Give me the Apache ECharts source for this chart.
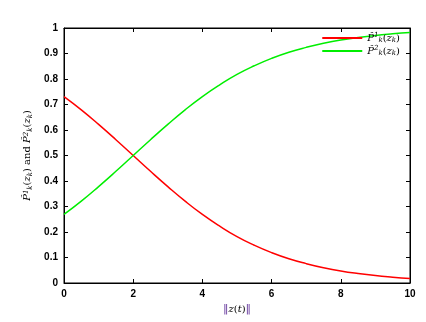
<!DOCTYPE html>
<html>
<head>
<meta charset="utf-8">
<script src="https://cdn.jsdelivr.net/npm/echarts@6/dist/echarts.min.js"></script>
<style>
  html, body { margin: 0; padding: 0; background: #fff; }
  #chart { width: 426px; height: 322px; }
</style>
</head>
<body>
<div id="chart"></div>
<script>
// values
const zNorm = [0, 0.5, 1, 1.5, 2, 2.5, 3, 3.5, 4, 4.5, 5, 5.5, 6, 6.5, 7, 7.5, 8, 8.5, 9, 9.5, 10];
const p1 = [0.731, 0.679, 0.622, 0.562, 0.5, 0.438, 0.378, 0.321, 0.269, 0.223, 0.182, 0.148, 0.119, 0.095, 0.076, 0.06, 0.047, 0.037, 0.029, 0.023, 0.018];
const p2 = [0.269, 0.321, 0.378, 0.438, 0.5, 0.562, 0.622, 0.679, 0.731, 0.777, 0.818, 0.852, 0.881, 0.905, 0.924, 0.94, 0.953, 0.963, 0.971, 0.977, 0.982];
const xTicks = [0, 2, 4, 6, 8, 10];
const yTicks = [0, 0.1, 0.2, 0.3, 0.4, 0.5, 0.6, 0.7, 0.8, 0.9, 1];

const seriesNames = ['p1', 'p2'];
const chart = echarts.init(document.getElementById('chart'));

const tickFont = { color: '#000', fontFamily: 'Liberation Sans', fontWeight: 'bold', fontSize: 10 };
const mathRich = {
  it: { fontFamily: 'DejaVu Serif', fontStyle: 'italic', fontSize: 10, color: '#000' },
  rm: { fontFamily: 'DejaVu Serif', fontSize: 10, color: '#000' },
  sup: { fontFamily: 'DejaVu Serif', fontStyle: 'italic', fontSize: 7, color: '#000', verticalAlign: 'top', padding: [0, 0, 4, 0] },
  sub: { fontFamily: 'DejaVu Serif', fontStyle: 'italic', fontSize: 7, color: '#000', verticalAlign: 'bottom', padding: [4, 0, 0, 0] }
};
const pLabel = (k) => '{it|P̂}{sup|' + k + '}{sub|k}{rm|(}{it|z}{sub|k}{rm|)}';

// axes on top / right only carry the inward ticks of the box
const mirrorAxis = (type, extra) => Object.assign({
  type: 'value', min: 0, max: type === 'x' ? 10 : 1, interval: type === 'x' ? 2 : 0.1,
  show: true,
  axisLine: { show: true, onZero: false, lineStyle: { color: '#000', width: 1 } },
  axisTick: { show: true, inside: true, length: 4, lineStyle: { color: '#000' } },
  axisLabel: { show: false }, splitLine: { show: false }
}, extra);

chart.setOption({
  animation: false,
  backgroundColor: '#fff',
  grid: { left: 64, right: 16, top: 28, bottom: 39, show: true, borderColor: '#000', borderWidth: 1 },
  legend: {
    right: 26, top: 32, orient: 'vertical', itemWidth: 40, itemHeight: 2, itemGap: 1, padding: 0,
    data: seriesNames.map((n) => ({ name: n, icon: 'rect' })),
    formatter: (n) => pLabel(n === 'p1' ? 1 : 2),
    textStyle: { lineHeight: 12, rich: mathRich }
  },
  xAxis: [
    {
      type: 'value', min: 0, max: 10, interval: 2,
      axisLine: { onZero: false, lineStyle: { color: '#000', width: 1 } },
      axisTick: { inside: true, length: 4, lineStyle: { color: '#000' } },
      axisLabel: Object.assign({ margin: 6, formatter: (v) => xTicks.includes(v) ? String(v) : '' }, tickFont),
      splitLine: { show: false },
      name: '{bar|‖}{it|z}{rm|(}{it|t}{rm|)}{bar|‖}',
      nameLocation: 'middle', nameGap: 20,
      nameTextStyle: { rich: Object.assign({}, mathRich, { bar: { color: '#6b3fa0', fontSize: 11, fontFamily: 'DejaVu Sans' } }) }
    },
    mirrorAxis('x', { position: 'top' })
  ],
  yAxis: [
    {
      type: 'value', min: 0, max: 1, interval: 0.1,
      axisLine: { onZero: false, lineStyle: { color: '#000', width: 1 } },
      axisTick: { inside: true, length: 4, lineStyle: { color: '#000' } },
      axisLabel: Object.assign({ margin: 6, formatter: (v) => yTicks.includes(Math.round(v * 10) / 10) ? String(Math.round(v * 10) / 10) : '' }, tickFont),
      splitLine: { show: false },
      name: pLabel(1) + '{rm| and }' + pLabel(2),
      nameLocation: 'middle', nameGap: 30, nameRotate: 90,
      nameTextStyle: { rich: mathRich }
    },
    mirrorAxis('y', { position: 'right' })
  ],
  series: [
    {
      name: 'p1', type: 'line', smooth: true, symbol: 'none',
      data: zNorm.map((z, i) => [z, p1[i]]),
      lineStyle: { color: '#ff0000', width: 1.5 }, itemStyle: { color: '#ff0000' }
    },
    {
      name: 'p2', type: 'line', smooth: true, symbol: 'none',
      data: zNorm.map((z, i) => [z, p2[i]]),
      lineStyle: { color: '#00ee00', width: 1.5 }, itemStyle: { color: '#00ee00' }
    },
    // empty series so the mirrored top/right axes get drawn
    { type: 'line', xAxisIndex: 1, yAxisIndex: 1, data: [], silent: true }
  ]
});
</script>
</body>
</html>
